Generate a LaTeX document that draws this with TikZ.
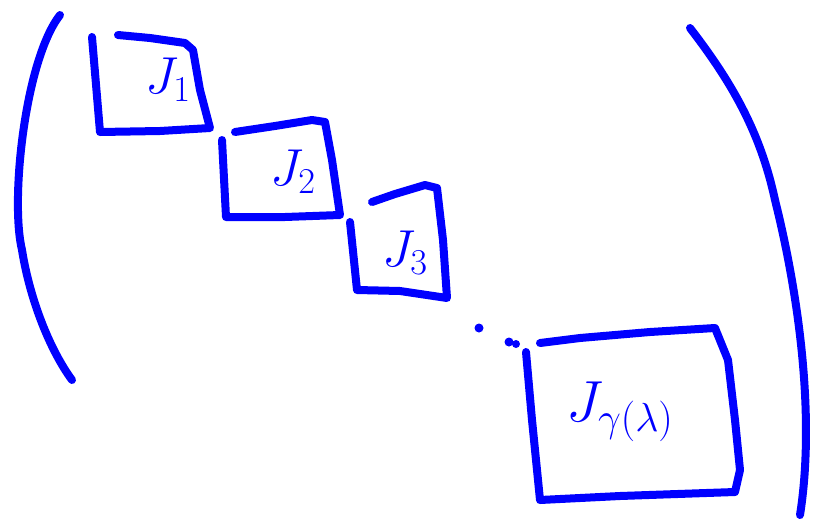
\RequirePackage{fix-cm}
\documentclass[tikz,border=0pt]{standalone}
\usepackage{fontspec}
\begin{document}
\begin{tikzpicture}[x=1pt,y=-1pt,
  ink/.style={draw=blue,line width=8pt,line cap=round,line join=round},
  lbl/.style={text=blue,font=\fontsize{52}{56}\selectfont,inner sep=0pt}]
\useasboundingbox (0,0) rectangle (814,520);
% left parenthesis
\draw[ink] (60,15) .. controls (25,60) and (10,200) .. (22,250) .. controls (30,300) and (50,350) .. (72,380);
% right parenthesis
\draw[ink] (690,28) .. controls (730,80) and (760,130) .. (775,200) .. controls (800,300) and (815,420) .. (800,515);
% block 1
\draw[ink] (92,37) -- (100,132) -- (160,131) -- (210,128) -- (200,90) -- (193,50) -- (185,43) -- (150,38) -- (118,35);
\node[lbl] (j1) at (168,80) {$J_1$};
% block 2
\draw[ink] (222,140) -- (226,217) -- (285,217) -- (340,215) -- (332,160) -- (325,122) -- (312,120) -- (275,126) -- (235,132);
\node[lbl] (j2) at (293,172) {$J_2$};
% block 3
\draw[ink] (350,222) -- (357,290) -- (400,291) -- (447,298) -- (443,240) -- (437,188) -- (425,185) -- (395,194) -- (372,202);
\node[lbl] (j3) at (405,253) {$J_3$};
% dots
\fill[blue] (479,328) circle (4.5pt);
\fill[blue] (509,342) circle (4.5pt);
\fill[blue] (516,344) circle (4pt);
% block 4
\draw[ink] (526,352) -- (532,420) -- (540,500) -- (620,496) -- (735,492) -- (740,470) -- (735,420) -- (728,360) -- (715,328) -- (650,332) -- (580,338) -- (540,343);
\node[lbl,font=\fontsize{58}{62}\selectfont] (jg) at (620,412) {$J_{\gamma(\lambda)}$};
\end{tikzpicture}
\end{document}
